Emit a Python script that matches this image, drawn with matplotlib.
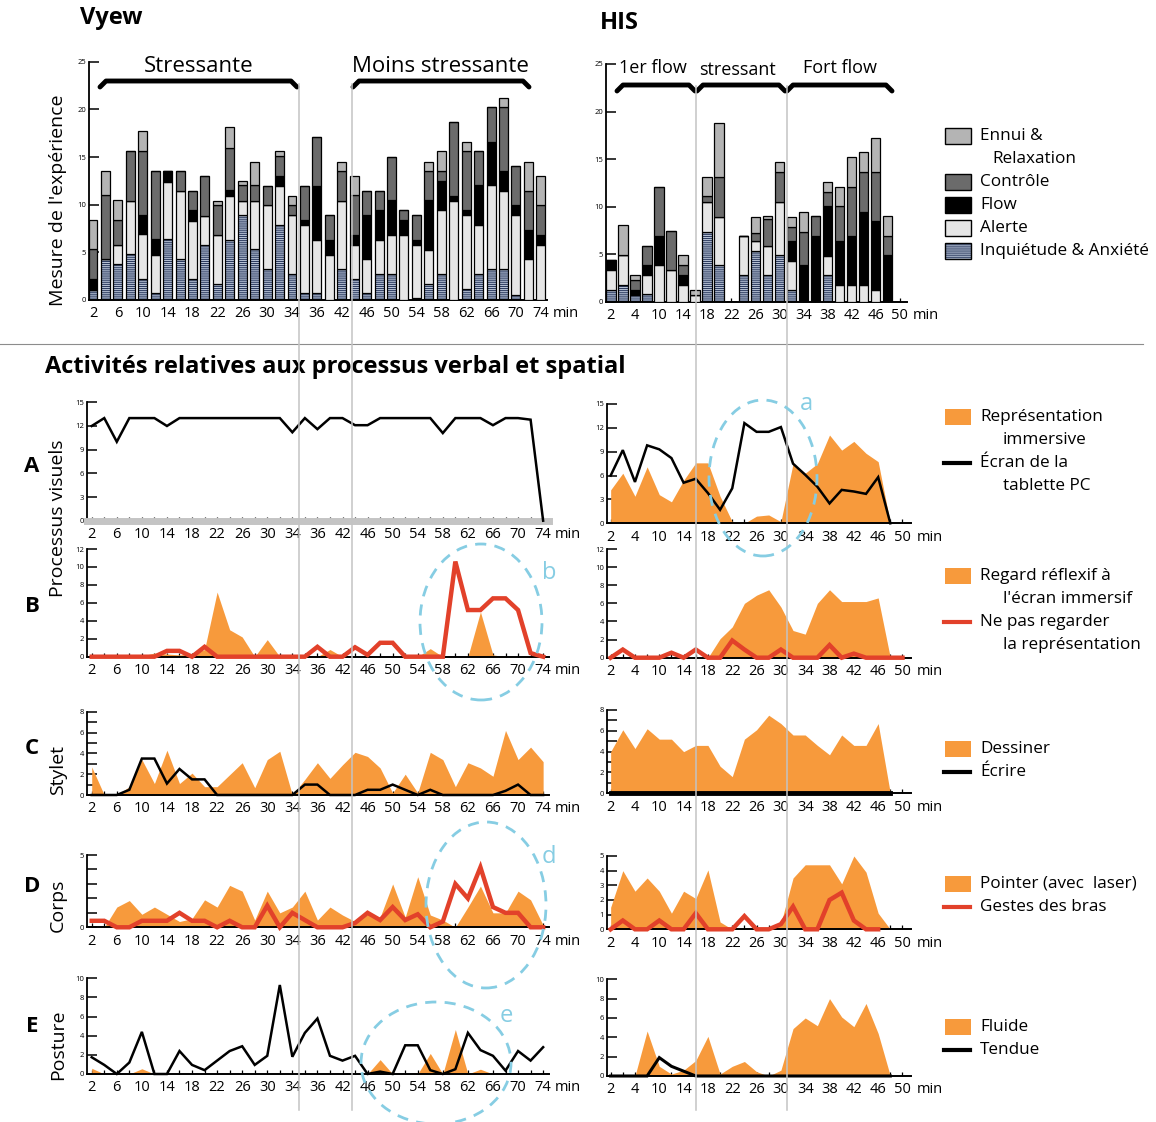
import numpy as np
import matplotlib
matplotlib.use('Agg')
import matplotlib.pyplot as plt
from matplotlib.patches import Rectangle, Ellipse
from matplotlib.lines import Line2D

plt.rcParams['font.family'] = ['Open Sans', 'DejaVu Sans']
plt.rcParams['hatch.linewidth'] = 0.7

# ---------------- data ----------------
vyew_ticks = ['2', '6', '10', '14', '18', '22', '26', '30', '34', '36', '42', '46',
              '50', '54', '58', '62', '66', '70', '74']
his_ticks = ['2', '4', '10', '14', '18', '22', '26', '30', '34', '38', '42', '46', '50']

# Vyew stacked experience bars (segment heights)
vyew_anx = [1.1, 4.3, 3.8, 4.8, 2.2, 0.7, 6.4, 4.3, 2.2, 5.8, 1.7, 6.3, 8.9, 5.3, 3.3, 7.9, 2.7,
            0.7, 0.7, 0.0, 3.3, 2.2, 0.7, 2.7, 2.7, 0.0, 0.2, 1.7, 2.7, 0.0, 1.2, 2.7, 3.3, 3.3, 0.5, 0.0, 0.0]
vyew_alert = [0.0, 0.0, 2.0, 5.6, 4.7, 4.0, 6.0, 7.1, 6.1, 3.0, 5.1, 4.6, 1.5, 5.1, 6.7, 4.1, 6.2,
              7.2, 5.6, 4.7, 7.1, 3.6, 3.6, 3.6, 4.1, 6.8, 5.6, 3.5, 6.7, 10.4, 7.7, 5.2, 8.8, 8.1, 8.4, 4.3, 5.8]
vyew_flow = [1.1, 0.0, 0.0, 0.0, 2.0, 1.7, 1.1, 0.0, 1.1, 0.0, 0.0, 0.6, 0.0, 0.0, 0.0, 1.0, 0.0,
             0.5, 5.7, 1.6, 0.0, 1.0, 4.6, 3.1, 3.7, 1.6, 0.5, 5.3, 3.1, 0.5, 0.5, 4.2, 4.5, 2.1, 1.1, 3.0, 1.0]
vyew_ctrl = [3.1, 6.7, 2.6, 5.2, 6.7, 7.1, 0.0, 2.1, 2.0, 4.2, 3.2, 4.4, 1.7, 1.7, 2.0, 2.1, 1.1,
             3.6, 5.1, 2.6, 3.1, 4.2, 2.5, 2.0, 4.5, 1.0, 2.6, 3.0, 1.0, 7.8, 6.2, 3.5, 3.6, 6.7, 4.1, 4.1, 3.2]
vyew_ennui = [3.1, 2.5, 2.1, 0.0, 2.1, 0.0, 0.0, 0.0, 0.0, 0.0, 0.4, 2.2, 0.4, 2.4, 0.0, 0.5, 0.9,
              0.0, 0.0, 0.0, 1.0, 2.0, 0.0, 0.0, 0.0, 0.0, 0.0, 1.0, 2.1, 0.0, 1.0, 0.0, 0.0, 1.0, 0.0, 3.1, 3.0]

# HIS stacked experience bars
his_anx = [1.3, 1.75, 0.7, 0.8, 0.0, 0.0, 0.0, 0.0, 7.4, 3.85, 0.0, 2.8, 5.4, 2.8, 4.9, 1.25,
           0.0, 0.0, 2.8, 0.0, 0.0, 0.0, 0.0, 0.0]
his_alert = [2.1, 3.2, 0.0, 2.0, 3.85, 3.4, 1.75, 0.7, 3.1, 5.1, 0.0, 4.15, 1.0, 3.1, 5.6, 3.1,
             0.0, 0.0, 2.05, 1.75, 1.75, 1.75, 1.25, 0.0]
his_flow = [1.0, 0.0, 0.55, 1.05, 3.1, 0.0, 1.05, 0.0, 0.0, 0.0, 0.0, 0.0, 0.0, 0.0, 0.0, 2.1,
            3.85, 6.95, 5.2, 4.7, 5.2, 7.7, 7.25, 4.9]
his_ctrl = [0.0, 0.0, 1.05, 2.05, 5.1, 4.05, 1.05, 0.0, 0.6, 4.15, 0.0, 0.0, 0.9, 2.8, 3.2, 1.45,
            3.55, 2.05, 1.55, 3.6, 5.1, 4.25, 5.2, 2.05]
his_ennui = [0.0, 3.1, 0.5, 0.0, 0.0, 0.0, 1.05, 0.6, 2.0, 5.7, 0.0, 0.0, 1.65, 0.3, 1.0, 1.05,
             2.05, 0.0, 1.05, 2.05, 3.2, 2.05, 3.55, 2.05]

# A - visual processes
A_vyew_ecran = [12, 13, 10, 13, 13, 13, 12, 13, 13, 13, 13, 13, 13, 13, 13, 13, 11.2, 13, 11.6, 13,
                13, 12.1, 12.1, 13, 13, 13, 13, 13, 11.1, 13, 13, 13, 12.1, 13, 13, 12.8, 0]
A_his_immersive = [4.2, 6.3, 3.4, 7.1, 3.6, 2.7, 5.4, 7.6, 7.6, 3.4, 0.2, 0.0, 0.9, 1.05, 0.2, 7.5,
                   6.3, 7.5, 11.1, 9.2, 10.3, 8.8, 7.75, 0.0, 0.0]
A_his_ecran = [6.0, 9.2, 5.2, 9.8, 9.3, 8.2, 5.1, 5.6, 3.8, 1.7, 4.4, 12.6, 11.5, 11.5, 12.1, 7.5,
               6.1, 4.6, 2.5, 4.2, 4.0, 3.7, 5.8, 0.0]

# B
B_vyew_regard = [0, 0, 0, 0, 0.1, 0.4, 0.3, 0.2, 0.3, 0.8, 7.2, 3.0, 2.2, 0, 1.9, 0, 0, 0, 0, 0.8,
                 0, 0, 0, 0, 0, 0, 0, 0.9, 0, 0, 0, 5.0, 0.2, 0, 0, 0, 0]
B_vyew_nepas = [0, 0, 0, 0, 0, 0, 0.65, 0.65, 0, 1.1, 0, 0, 0, 0, 0, 0, 0, 0, 1.1, 0, 0, 1.05, 0.2,
                1.55, 1.55, 0, 0, 0, 0, 10.6, 5.2, 5.2, 6.5, 6.5, 5.2, 0.4, 0]
B_his_regard = [0, 0, 0, 0, 0, 0, 0, 0, 0, 2.1, 3.4, 6.0, 6.9, 7.5, 5.6, 3.0, 2.6, 6.0, 7.5, 6.2,
                6.2, 6.2, 6.6, 0, 0]
B_his_nepas = [0, 0.9, 0, 0, 0, 0.55, 0, 0.9, 0, 0, 1.9, 0.9, 0, 0, 0.9, 0, 0, 0, 1.4, 0, 0.45,
               0, 0, 0, 0]

# C - stylus
C_vyew_dessiner = [2.7, 0, 0, 0.8, 3.4, 1.1, 4.3, 1.1, 2.1, 0.8, 0.8, 1.95, 3.1, 0.7, 3.4, 4.2, 0,
                   1.5, 3.1, 1.6, 2.9, 4.1, 3.7, 2.6, 0.2, 2.0, 0.2, 4.1, 3.4, 0.8, 3.1, 2.6, 1.8,
                   6.2, 3.4, 4.6, 3.2]
C_vyew_ecrire = [0, 0, 0, 0.5, 3.5, 3.5, 1.1, 2.5, 1.5, 1.5, 0, 0, 0, 0, 0, 0, 0, 1.0, 1.0, 0, 0,
                 0, 0.5, 0.5, 1.0, 0.5, 0, 0.5, 0, 0, 0, 0, 0, 0.4, 1.0, 0, 0]
C_his_dessiner = [4.0, 6.1, 4.3, 6.2, 5.2, 5.2, 4.0, 4.6, 4.6, 2.6, 1.6, 5.2, 6.1, 7.5, 6.7, 5.6,
                  5.6, 4.6, 3.7, 5.6, 4.6, 4.6, 6.7, 0, 0]
C_his_ecrire = [0, 0, 0, 0, 0, 0, 0, 0, 0, 0, 0, 0, 0, 0, 0, 0, 0, 0, 0, 0, 0, 0, 0, 0]

# D - body
D_vyew_pointer = [0, 0, 1.4, 1.85, 0.9, 1.4, 0.9, 0.4, 0.6, 1.9, 1.4, 2.9, 2.5, 0.5, 2.5, 1.0, 1.4,
                  2.5, 0.5, 1.4, 0.85, 0.4, 0.9, 0.7, 3.0, 0.7, 3.5, 0.85, 0.5, 0, 1.4, 2.85, 1.0,
                  1.0, 2.5, 1.9, 0.15]
D_vyew_gestes = [0.45, 0.45, 0, 0, 0.45, 0.45, 0.45, 1.0, 0.45, 0.45, 0, 0.45, 0, 0, 1.5, 0, 1.0,
                 0.5, 0, 0, 0, 0.3, 1.0, 0.5, 1.4, 0.5, 0.9, 0, 0.4, 3.0, 2.0, 4.15, 1.4, 1.0, 1.0, 0, 0]
D_his_pointer = [1.5, 4.0, 2.6, 3.5, 2.6, 1.1, 2.6, 2.1, 4.05, 0.5, 0, 0, 0, 0, 0.4, 3.5, 4.4, 4.4,
                 4.4, 3.1, 5.0, 3.9, 1.1, 0, 0]
D_his_gestes = [0, 0.6, 0, 0, 0.6, 0, 0, 1.1, 0, 0, 0, 0.9, 0, 0, 0.35, 1.55, 0, 0, 2.0, 2.5, 0.6,
                0, 0]

# E - posture
E_vyew_fluide = [0.6, 0, 0, 0, 0.55, 0, 0, 0, 0, 0, 0, 0, 0, 0, 0, 0, 0, 0, 0, 0, 0, 0, 0, 1.5, 0,
                 0, 0, 2.15, 0, 4.65, 0, 0.5, 0, 0, 0, 0, 0]
E_vyew_tendue = [1.75, 0.95, 0, 1.2, 4.4, 0, 0, 2.4, 0.95, 0.4, 1.4, 2.4, 2.9, 0.95, 1.9, 9.3, 1.8,
                 4.3, 5.8, 1.9, 1.4, 1.9, 0, 0.25, 0, 3.0, 3.0, 0.4, 0, 0.5, 4.3, 2.5, 1.9, 0.35,
                 2.4, 1.4, 2.8]
E_his_fluide = [0, 0, 0, 4.65, 1.0, 0.2, 0.6, 1.6, 4.1, 0.2, 1.0, 1.5, 0.45, 0, 0.6, 4.9, 6.0, 5.2,
                8.0, 6.1, 5.1, 7.5, 4.4, 0, 0]
E_his_tendue = [0, 0, 0, 0, 1.9, 1.0, 0.5, 0, 0, 0, 0, 0, 0, 0, 0, 0, 0, 0, 0, 0, 0, 0, 0, 0]

# ---------------- figure ----------------
W, H = 1156, 1122
fig = plt.figure(figsize=(W / 100, H / 100), dpi=100)


def fx(px):
    return px / W


def fy(py):
    return 1 - py / H


def make_ax(x0, x1, ytop, ybot):
    ax = fig.add_axes([fx(x0), fy(ybot), (x1 - x0) / W, (ybot - ytop) / H])
    ax.patch.set_alpha(0)
    return ax


ORANGE = '#f79a3c'
RED = '#e2412a'
BLUE = '#86cde3'
HATCH_FACE = '#b6c1d4'
HATCH_INK = '#26355a'

VX = np.arange(len(vyew_anx))  # 37 time slots
HX = np.arange(len(his_ticks) * 2 - 1)  # 25 time slots


def style(ax, n, labels, xlim, ymax, yticks, ylabels, minor=None,
          base_color='black', base_lw=1.4):
    ax.set_xlim(*xlim)
    ax.set_ylim(0, ymax)
    ax.spines['top'].set_visible(False)
    ax.spines['right'].set_visible(False)
    ax.spines['left'].set_linewidth(1.3)
    ax.spines['bottom'].set_color(base_color)
    ax.spines['bottom'].set_linewidth(base_lw)
    ax.set_xticks(np.arange(n))
    ax.set_xticklabels([labels[i // 2] if i % 2 == 0 else '' for i in range(n)])
    ax.tick_params(axis='x', direction='in', length=3, width=0.9, labelsize=10.5, pad=4.5)
    ax.set_yticks(yticks)
    ax.set_yticklabels(ylabels)
    if minor is not None:
        ax.set_yticks(minor, minor=True)
    ax.tick_params(axis='y', which='both', direction='in', length=7, width=1.1,
                   labelsize=5.5, pad=2)
    ax.annotate('min', xy=(1, 0), xycoords='axes fraction', xytext=(4, -4.5),
                textcoords='offset points', ha='left', va='top', fontsize=10.5)


def stacked(ax, x, width, anx, alert, flow, ctrl, ennui):
    ax.bar(x, anx, width, color=HATCH_FACE, hatch='--------', edgecolor=HATCH_INK, lw=0, zorder=2)
    ax.bar(x, anx, width, fill=False, edgecolor='black', lw=0.9, zorder=3)
    bottom = np.array(anx, dtype=float)
    for vals, col in [(alert, '#e6e6e6'), (flow, '#000000'), (ctrl, '#6b6b6b'), (ennui, '#b4b4b4')]:
        ax.bar(x, vals, width, bottom=bottom, color=col, edgecolor='black', lw=0.9, zorder=3)
        bottom = bottom + np.array(vals)


# ---- top charts ----
ax_tl = make_ax(89, 547, 61.7, 300)
stacked(ax_tl, VX, 0.72, vyew_anx, vyew_alert, vyew_flow, vyew_ctrl, vyew_ennui)
style(ax_tl, 37, vyew_ticks, (-0.32, 36.5), 25, [0, 5, 10, 15, 20, 25],
      ['0', '5', '10', '15', '20', '25'])

ax_tr = make_ax(606, 907, 64, 302)
stacked(ax_tr, HX[:len(his_anx)], 0.78, his_anx, his_alert, his_flow, his_ctrl, his_ennui)
style(ax_tr, 25, his_ticks, (-0.4, 24.6), 25, [0, 5, 10, 15, 20, 25],
      ['0', '5', '10', '15', '20', '25'])

# ---- bottom panels ----
LXL = (-0.4, 36.5)
RXL = (-0.3, 24.7)


def line(ax, vals, color, lw):
    ax.plot(np.arange(len(vals)), vals, color=color, lw=lw, zorder=4,
            solid_joinstyle='miter', clip_on=False)


def area(ax, vals):
    ax.fill_between(np.arange(len(vals)), 0, vals, color=ORANGE, lw=0, zorder=2)


# A
axA_l = make_ax(86.7, 549.4, 402.3, 520.7)
line(axA_l, A_vyew_ecran, 'black', 1.8)
style(axA_l, 37, vyew_ticks, LXL, 15, [0, 3, 6, 9, 12, 15], ['0', '3', '6', '9', '12', '15'],
      base_color='#c4c4c4', base_lw=5)
axA_r = make_ax(607, 911, 404, 523.3)
area(axA_r, A_his_immersive)
line(axA_r, A_his_ecran, 'black', 1.8)
style(axA_r, 25, his_ticks, RXL, 15, [0, 3, 6, 9, 12, 15], ['0', '3', '6', '9', '12', '15'])

# B
axB_l = make_ax(86.7, 549.4, 549, 656.7)
area(axB_l, B_vyew_regard)
line(axB_l, B_vyew_nepas, RED, 3.2)
style(axB_l, 37, vyew_ticks, LXL, 12, [0, 2, 4, 6, 8, 10, 12],
      ['0', '2', '4', '6', '8', '10', '12'])
axB_r = make_ax(607, 911, 549, 657.7)
area(axB_r, B_his_regard)
line(axB_r, B_his_nepas, RED, 3.2)
style(axB_r, 25, his_ticks, RXL, 12, [0, 2, 4, 6, 8, 10, 12],
      ['0', '2', '4', '6', '8', '10', '12'])

# C
axC_l = make_ax(86.7, 549.4, 711.7, 795)
area(axC_l, C_vyew_dessiner)
line(axC_l, C_vyew_ecrire, 'black', 1.8)
style(axC_l, 37, vyew_ticks, LXL, 8, [0, 2, 4, 6, 8], ['0', '2', '4', '6', '8'],
      minor=[1, 3, 5, 7])
axC_r = make_ax(607, 911, 710, 793.3)
area(axC_r, C_his_dessiner)
line(axC_r, C_his_ecrire, 'black', 3.5)
style(axC_r, 25, his_ticks, RXL, 8, [0, 2, 4, 6, 8], ['0', '2', '4', '6', '8'],
      minor=[1, 3, 5, 7])

# D
axD_l = make_ax(86.7, 549.4, 855, 927.3)
area(axD_l, D_vyew_pointer)
line(axD_l, D_vyew_gestes, RED, 3.2)
style(axD_l, 37, vyew_ticks, LXL, 5, [0, 5], ['0', '5'], minor=[1, 2, 3, 4])
axD_r = make_ax(607, 911, 856, 929.3)
area(axD_r, D_his_pointer)
line(axD_r, D_his_gestes, RED, 3.2)
style(axD_r, 25, his_ticks, RXL, 5, [0, 1, 2, 3, 4, 5], ['0', '1', '2', '3', '4', '5'])

# E
axE_l = make_ax(86.7, 549.4, 978.3, 1074)
area(axE_l, E_vyew_fluide)
line(axE_l, E_vyew_tendue, 'black', 1.8)
style(axE_l, 37, vyew_ticks, LXL, 10, [0, 2, 4, 6, 8, 10], ['0', '2', '4', '6', '8', '10'])
axE_r = make_ax(607, 911, 979.3, 1076)
area(axE_r, E_his_fluide)
line(axE_r, E_his_tendue, 'black', 2.2)
style(axE_r, 25, his_ticks, RXL, 10, [0, 2, 4, 6, 8, 10], ['0', '2', '4', '6', '8', '10'])


# ---- phase separators ----
def fig_x(ax, xd):
    disp = ax.transData.transform((xd, 0))
    return fig.transFigure.inverted().transform(disp)[0]


for b in (16.5, 20.75):
    xf = fig_x(axE_l, b)
    fig.add_artist(Line2D([xf, xf], [fy(84), fy(1110)], transform=fig.transFigure,
                          color='#c3c3c3', lw=1.1, zorder=6))
for b in (7.05, 14.5):
    xf = fig_x(axE_r, b)
    fig.add_artist(Line2D([xf, xf], [fy(86), fy(1110)], transform=fig.transFigure,
                          color='#c3c3c3', lw=1.1, zorder=6))


# ---- brackets ----
def bracket(x0, x1, y, drop=6):
    fig.add_artist(Line2D([fx(x0), fx(x0 + 6), fx(x1 - 6), fx(x1)],
                          [fy(y + drop), fy(y), fy(y), fy(y + drop)],
                          transform=fig.transFigure, color='black', lw=3.5,
                          solid_joinstyle='round', solid_capstyle='round'))


bracket(100, 297, 81)
bracket(353, 529, 81)
fig.text(fx(199), fy(66), 'Stressante', fontsize=16, ha='center', va='center')
fig.text(fx(440), fy(66), 'Moins stressante', fontsize=16, ha='center', va='center')
bracket(617, 695, 85)
bracket(697, 785, 85)
bracket(787, 892, 85)
fig.text(fx(653), fy(68), '1er flow', fontsize=13, ha='center', va='center')
fig.text(fx(738), fy(70), 'stressant', fontsize=13, ha='center', va='center')
fig.text(fx(840), fy(68), 'Fort flow', fontsize=13, ha='center', va='center')

# ---- titles / labels ----
fig.text(fx(80), fy(18), 'Vyew', fontsize=17, fontweight='bold', ha='left', va='center')
fig.text(fx(600), fy(23), 'HIS', fontsize=17, fontweight='bold', ha='left', va='center')
fig.add_artist(Line2D([0, fx(1143)], [fy(344), fy(344)], transform=fig.transFigure,
                      color='#8c8c8c', lw=0.8))
fig.text(fx(45), fy(367), 'Activités relatives aux processus verbal et spatial',
         fontsize=17, fontweight='bold', ha='left', va='center')

fig.text(fx(58), fy(200), "Mesure de l'expérience", rotation=90, fontsize=14,
         ha='center', va='center')
fig.text(fx(58), fy(518), 'Processus visuels', rotation=90, fontsize=14, ha='center', va='center')
fig.text(fx(58), fy(770), 'Stylet', rotation=90, fontsize=14, ha='center', va='center')
fig.text(fx(58), fy(905), 'Corps', rotation=90, fontsize=14, ha='center', va='center')
fig.text(fx(58), fy(1045), 'Posture', rotation=90, fontsize=14, ha='center', va='center')
for letter, yy in [('A', 467), ('B', 606), ('C', 748), ('D', 886), ('E', 1026)]:
    fig.text(fx(32), fy(yy), letter, fontsize=16, fontweight='bold', ha='center', va='center')


# ---- legends ----
def leg_rect(y, color, edge=None, hatch=None):
    fig.add_artist(Rectangle((fx(945), fy(y + 8)), 26 / W, 16 / H, transform=fig.transFigure,
                             facecolor=color, edgecolor=edge if edge else 'none',
                             lw=0 if (edge is None or hatch) else 1.0, hatch=hatch))


def leg_line(y, color, lw=3.0):
    fig.add_artist(Line2D([fx(944), fx(970)], [fy(y), fy(y)], transform=fig.transFigure,
                          color=color, lw=lw))


def leg_text(y, s, x=980):
    fig.text(fx(x), fy(y), s, fontsize=12.3, ha='left', va='center')


leg_rect(136, '#b4b4b4', 'black')
leg_text(136, 'Ennui &')
leg_text(159, 'Relaxation', x=992)
leg_rect(182, '#6b6b6b', 'black')
leg_text(182, 'Contrôle')
leg_rect(205, '#000000', 'black')
leg_text(205, 'Flow')
leg_rect(228, '#e6e6e6', 'black')
leg_text(228, 'Alerte')
leg_rect(251, HATCH_FACE, HATCH_INK, hatch='--------')
leg_rect(251, 'none', 'black')
leg_text(251, 'Inquiétude & Anxiété')

leg_rect(417, ORANGE)
leg_text(417, 'Représentation')
leg_text(440, 'immersive', x=1003)
leg_line(463, 'black')
leg_text(463, 'Écran de la')
leg_text(486, 'tablette PC', x=1003)

leg_rect(576, ORANGE)
leg_text(576, 'Regard réflexif à')
leg_text(599, "l'écran immersif", x=1003)
leg_line(622, RED)
leg_text(622, 'Ne pas regarder')
leg_text(645, 'la représentation', x=1003)

leg_rect(749, ORANGE)
leg_text(749, 'Dessiner')
leg_line(772, 'black')
leg_text(772, 'Écrire')

leg_rect(884, ORANGE)
leg_text(884, 'Pointer (avec  laser)')
leg_line(907, RED)
leg_text(907, 'Gestes des bras')

leg_rect(1027, ORANGE)
leg_text(1027, 'Fluide')
leg_line(1050, 'black')
leg_text(1050, 'Tendue')

# ---- dashed highlight ellipses ----
for (cx, cy, w, h, lab, lx, ly) in [(763, 478, 108, 156, 'a', 806, 404),
                                     (481, 622, 122, 156, 'b', 549, 573),
                                     (486, 905, 120, 166, 'd', 549, 857),
                                     (436, 1063, 150, 122, 'e', 506, 1016)]:
    fig.add_artist(Ellipse((fx(cx), fy(cy)), w / W, h / H, transform=fig.transFigure,
                           fill=False, edgecolor=BLUE, lw=2, linestyle=(0, (4, 3)), zorder=7))
    fig.text(fx(lx), fy(ly), lab, color=BLUE, fontsize=17, ha='center', va='center')

fig.savefig('out.png', dpi=100)
